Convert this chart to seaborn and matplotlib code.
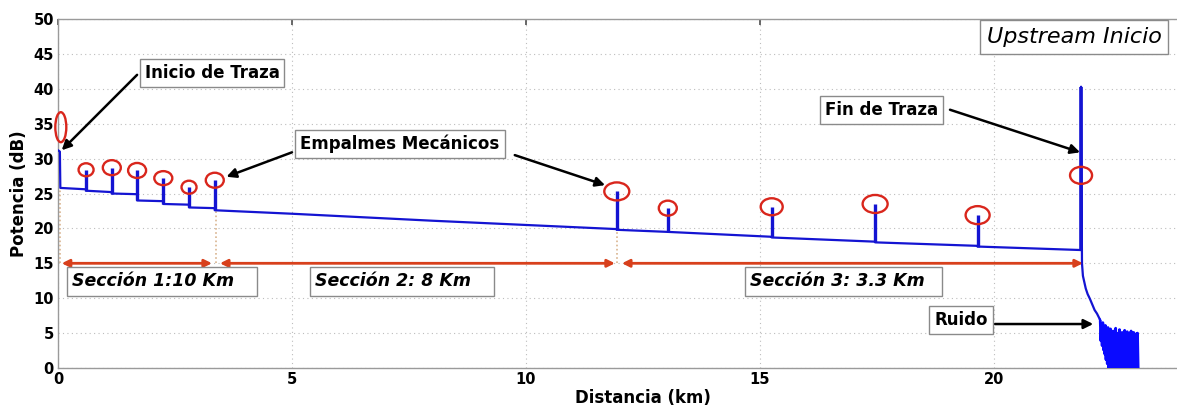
import numpy as np
import pandas as pd
import matplotlib
matplotlib.use("Agg")
import matplotlib.pyplot as plt
import seaborn as sns
from matplotlib.patches import Ellipse
from matplotlib.transforms import ScaledTranslation

# ---- OTDR trace: baseline with splice steps (km, dB) ----
trace_km = [0.0, 0.04, 0.05, 0.6, 0.6, 1.15, 1.15, 1.69, 1.69, 2.25, 2.25,
            2.8, 2.8, 3.35, 3.35, 5.0, 8.0, 11.94, 11.94, 13.03, 13.03,
            15.25, 15.25, 17.46, 17.46, 19.65, 19.65, 21.86, 21.86, 21.88]
trace_db = [31.2, 31.0, 25.8, 25.6, 25.4, 25.2, 25.0, 24.9, 24.0, 23.9, 23.5,
            23.4, 23.0, 22.9, 22.6, 22.1, 21.1, 19.9, 19.8, 19.5, 19.5,
            18.8, 18.7, 18.1, 18.0, 17.5, 17.4, 16.9, 40.3, 15.0]

# fall-off after the end reflection
tail_km = [21.90, 21.93, 21.96, 22.00, 22.05, 22.10, 22.15, 22.20, 22.26]
tail_db = [13.2, 12.3, 11.4, 10.6, 9.9, 9.1, 8.3, 7.8, 7.0]

# noise floor samples
noise_db = [6.8, 3.9, 6.2, 3.2, 6.5, 2.6, 5.9, 2.0, 6.1, 1.2, 5.4, 0.6,
            5.8, 0.0, 5.2, 0.0, 5.6, 0.0, 4.9, 0.0, 5.3, 0.0, 4.6, 0.0,
            5.7, 0.0, 5.0, 0.0, 4.4, 0.0, 5.5, 0.0, 4.8, 0.0, 5.1, 0.0,
            4.3, 0.0, 5.4, 0.0, 4.9, 0.0, 5.2, 0.0, 4.5, 0.0, 5.0, 0.0,
            5.3, 0.0, 4.7, 0.0, 5.1, 0.0, 4.6, 0.0, 4.9, 0.0, 5.0, 0.0]
noise_km = np.linspace(22.27, 23.08, len(noise_db))

# end-of-fibre reflection
end_km, end_base_db, end_peak_db = 21.86, 16.9, 40.3
end_ring_db = 27.6

# mechanical splice reflections
splice_km = [0.6, 1.15, 1.69, 2.25, 2.8, 3.35, 11.94, 13.03, 15.25, 17.46, 19.65]
splice_peak_db = [28.4, 28.7, 28.3, 27.2, 25.9, 26.9, 25.3, 22.9, 23.1, 23.5, 21.9]
splice_base_db = [25.4, 25.0, 24.0, 23.5, 23.0, 22.6, 19.8, 19.5, 18.7, 18.0, 17.4]
ring_w_px = [15, 18, 18, 18, 15, 18, 25, 18, 22, 25, 24]
ring_h_px = [13, 15, 15, 14, 13, 15, 18, 15, 17, 18, 18]

# section limits (km)
section_starts = [0.08, 3.46, 12.05]
section_ends = [3.29, 11.90, 21.90]
section_labels = ["Sección 1:10 Km   ", "Sección 2: 8 Km   ", "Sección 3: 3.3 Km  "]
section_label_km = [0.30, 5.49, 14.79]
guide_km = [0.05, 3.38, 11.94]
guide_top_db = [25.8, 22.6, 19.8]

BLUE = "#1414d2"
NOISE_BLUE = "#0a0aff"
RED = "#d9261c"
ARROW_RED = "#d8401c"

sns.set_theme(style="white")
plt.rcParams["font.family"] = ["DejaVu Sans"]
plt.rcParams["text.color"] = "black"
plt.rcParams["axes.labelcolor"] = "black"
plt.rcParams["xtick.color"] = "black"
plt.rcParams["ytick.color"] = "black"

DPI = 100
fig = plt.figure(figsize=(11.77, 4.05), dpi=DPI)
ax = fig.add_axes([58 / 1177, 1 - 368 / 405, 1170 / 1177, (368 - 19) / 405])

# trace
df_trace = pd.DataFrame({"km": trace_km + tail_km, "db": trace_db + tail_db})
sns.lineplot(data=df_trace, x="km", y="db", estimator=None, sort=False,
             color=BLUE, lw=1.6, ax=ax, zorder=3)
df_noise = pd.DataFrame({"km": noise_km, "db": noise_db})
sns.lineplot(data=df_noise, x="km", y="db", estimator=None, sort=False,
             color=NOISE_BLUE, lw=2.0, ax=ax, zorder=3)
ax.plot([tail_km[-1], noise_km[0]], [tail_db[-1], noise_db[0]],
        color=NOISE_BLUE, lw=1.6, zorder=3)

# reflection spikes
ax.vlines(splice_km, splice_base_db, splice_peak_db, color=BLUE, lw=2.4, zorder=3)
ax.vlines([end_km], [end_base_db], [end_peak_db], color=BLUE, lw=2.6, zorder=3)


def ring(x, y, w_px, h_px, lw=1.7):
    tr = fig.dpi_scale_trans + ScaledTranslation(x, y, ax.transData)
    ax.add_patch(Ellipse((0, 0), w_px / DPI, h_px / DPI, transform=tr,
                         fill=False, ec=RED, lw=lw, clip_on=False, zorder=5))


for x, y, w, h in zip(splice_km, splice_peak_db, ring_w_px, ring_h_px):
    ring(x, y, w, h)
ring(end_km, end_ring_db, 22, 17)
ring(0.06, 34.5, 11, 30)

# section guides and span arrows
for gx, gt in zip(guide_km, guide_top_db):
    ax.plot([gx, gx], [15, gt], color="#d9b48f", lw=1.2, ls=(0, (1, 1.5)), zorder=2)
for s, e in zip(section_starts, section_ends):
    ax.annotate("", xy=(e, 15), xytext=(s, 15),
                arrowprops=dict(arrowstyle="<|-|>", color=ARROW_RED, lw=2.0,
                                mutation_scale=11, shrinkA=0, shrinkB=0), zorder=4)

box = dict(boxstyle="square,pad=0.3", fc="white", ec="#8a8a8a", lw=1.0)
for lbl, lx in zip(section_labels, section_label_km):
    ax.text(lx, 12.4, lbl, ha="left", va="center", fontsize=12.5,
            fontweight="bold", fontstyle="italic", bbox=box, zorder=6)

# black callouts
arrow_kw = dict(arrowstyle="-|>", color="black", lw=1.8, mutation_scale=14,
                shrinkA=0, shrinkB=0)
callout_arrows = [((1.69, 42.0), (0.08, 31.2)),
                  ((5.00, 30.9), (3.60, 27.4)),
                  ((9.76, 30.5), (11.69, 26.2)),
                  ((19.06, 37.0), (21.84, 30.9)),
                  ((20.02, 6.3), (22.12, 6.3))]
for start, tip in callout_arrows:
    ax.annotate("", xy=tip, xytext=start, arrowprops=arrow_kw, zorder=4)

callouts = [("Inicio de Traza", 3.29, 42.3),
            ("Empalmes Mecánicos", 7.31, 32.1),
            ("Fin de Traza", 17.59, 37.0),
            ("Ruido", 19.29, 6.9)]
for txt, cx, cy in callouts:
    ax.text(cx, cy, txt, ha="center", va="center", fontsize=12,
            fontweight="bold", bbox=box, zorder=6)

ax.text(21.71, 47.4, "Upstream Inicio", ha="center", va="center",
        fontsize=16, fontstyle="italic", bbox=box, zorder=6)

# axes
ax.set_xlim(0, 25)
ax.set_ylim(0, 50)
ax.set_xticks([0, 5, 10, 15, 20])
ax.set_yticks(np.arange(0, 51, 5))
ax.grid(True, color="#bdbdbd", ls=(0, (1, 3)), lw=0.8)
for sp in ax.spines.values():
    sp.set_color("#9a9a9a")
    sp.set_linewidth(1.0)
ax.tick_params(direction="in", length=4, color="#555555", top=True, right=True,
               labelsize=10.5, pad=3, labelcolor="black")
for t in ax.get_xticklabels() + ax.get_yticklabels():
    t.set_fontweight("bold")
ax.set_xlabel("Distancia (km)", fontsize=12, fontweight="bold", labelpad=1)
ax.set_ylabel("Potencia (dB)", fontsize=12, fontweight="bold", labelpad=4)

fig.savefig("out.png", dpi=DPI)
